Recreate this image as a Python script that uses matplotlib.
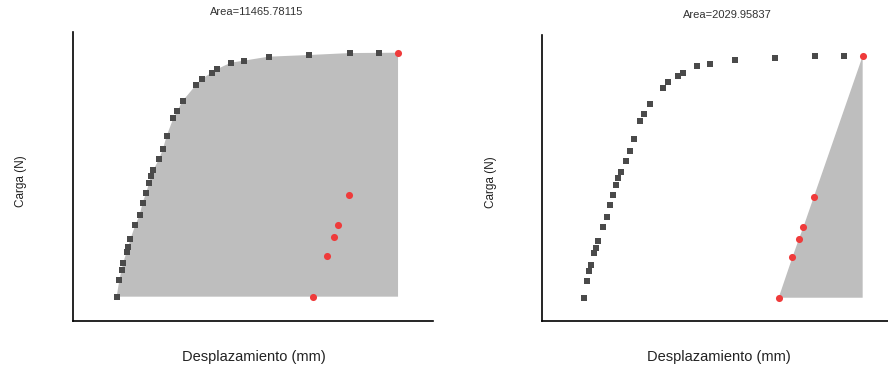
import matplotlib
matplotlib.use('Agg')
import matplotlib.pyplot as plt
import numpy as np

plt.rcParams['font.family'] = ['Liberation Sans', 'DejaVu Sans']

# loading curve (black squares)
carga_x = [0.000, 0.038, 0.071, 0.090, 0.142, 0.166, 0.194, 0.265, 0.327, 0.369,
           0.417, 0.459, 0.488, 0.521, 0.606, 0.658, 0.710, 0.805, 0.862, 0.937,
           1.127, 1.207, 1.349, 1.420, 1.624, 1.803, 2.159, 2.736, 3.314, 3.730]
carga_y = [0, 239, 383, 478, 645, 717, 822, 1028, 1171, 1348,
           1482, 1626, 1731, 1817, 1980, 2118, 2305, 2558, 2663, 2807,
           3036, 3122, 3213, 3261, 3357, 3385, 3443, 3467, 3495, 3498]

# unloading curve (red points)
descarga_x = [2.793, 2.991, 3.086, 3.148, 3.299, 4.000]
descarga_y = [0, 588, 856, 1023, 1463, 3500]

titulos = ['Area=11465.78115', 'Area=2029.95837']

gris = '#bebebe'
negro = '#4a4a4a'
rojo = '#ef3b3b'

fig = plt.figure(figsize=(8.88, 3.70), dpi=100)
W, H = 888.0, 370.0

# axes boxes in pixels (left, top, right, bottom)
ax1 = fig.add_axes([73 / W, 1 - 321 / H, (433 - 73) / W, (321 - 32) / H])
ax2 = fig.add_axes([542 / W, 1 - 321 / H, (888 - 542) / W, (321 - 35) / H])

x_max = descarga_x[-1]
y_max = descarga_y[-1]

# area under loading curve
poly_x = [carga_x[0]] + carga_x + [x_max, x_max]
poly_y = [0] + carga_y + [y_max, 0]
ax1.fill(poly_x, poly_y, color=gris, lw=0, zorder=1)

# area under unloading curve
poly2_x = descarga_x + [x_max]
poly2_y = descarga_y + [0]
ax2.fill(poly2_x, poly2_y, color=gris, lw=0, zorder=1)

for ax in (ax1, ax2):
    ax.scatter(carga_x, carga_y, marker='s', s=22, color=negro, lw=0, zorder=3)
    ax.scatter(descarga_x, descarga_y, marker='o', s=26, color=rojo, lw=0, zorder=4)
    ax.set_xticks([])
    ax.set_yticks([])
    for s in ('top', 'right'):
        ax.spines[s].set_visible(False)
    for s in ('left', 'bottom'):
        ax.spines[s].set_linewidth(1.2)
        ax.spines[s].set_color('black')

ax1.set_xlim(-0.621, 4.497)
ax1.set_ylim(-349, 3797)
ax2.set_xlim(-0.608, 4.364)
ax2.set_ylim(-337, 3804)

# titles and labels
fig.text(257 / W, 1 - 12 / H, titulos[0], ha='center', va='center', fontsize=8, color='#333333')
fig.text(727 / W, 1 - 15 / H, titulos[1], ha='center', va='center', fontsize=8, color='#333333')
fig.text(254 / W, 1 - 357 / H, 'Desplazamiento (mm)', ha='center', va='center', fontsize=10.5, color='#222222')
fig.text(719 / W, 1 - 357 / H, 'Desplazamiento (mm)', ha='center', va='center', fontsize=10.5, color='#222222')
fig.text(21 / W, 1 - 181 / H, 'Carga (N)', ha='center', va='center', rotation=90, fontsize=8.5, color='#222222')
fig.text(491 / W, 1 - 182 / H, 'Carga (N)', ha='center', va='center', rotation=90, fontsize=8.5, color='#222222')

plt.savefig('out.png', dpi=100)
plt.close()
